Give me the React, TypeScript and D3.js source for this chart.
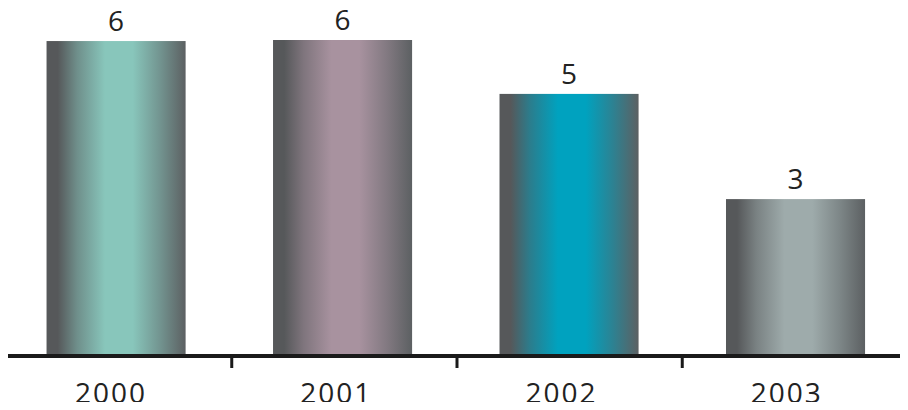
import React from "react";
import * as d3 from "d3";

const categories = ["2000", "2001", "2002", "2003"];
const values = [5.98, 6.0, 4.97, 2.96];
const labels = ["6", "6", "5", "3"];
const colors = ["#88c6bb", "#a8929f", "#00a2bf", "#9eabab"];

const W = 908;
const H = 410;
const baseY = 354;
const FONT = "'Open Sans', 'DejaVu Sans', sans-serif";

export default function App() {
  const x = d3.scaleBand<string>().domain(categories).range([6, 905.6]).paddingInner(0.386).paddingOuter(0.179);
  const xt = d3.scaleBand<string>().domain(categories).range([6.5, 907.5]);
  const y = d3.scaleLinear().domain([0, 6]).range([baseY, 40]);
  const ticks = categories.map((c) => xt(c)!).concat([907.5]);
  const dark = "#56585a";
  const dark2 = "#5c6062";
  return (
    <div style={{ margin: -8, width: W, height: H }}>
      <svg width={W} height={H} style={{ display: "block" }}>
        <defs>
          {colors.map((c, i) => (
            <linearGradient key={i} id={`g${i}`} x1="0" x2="1" y1="0" y2="0">
              <stop offset="0" stopColor={dark} />
              <stop offset="0.08" stopColor={dark} />
              <stop offset="0.22" stopColor={d3.interpolateRgb(dark, c)(0.5)} />
              <stop offset="0.42" stopColor={c} />
              <stop offset="0.62" stopColor={c} />
              <stop offset="0.82" stopColor={d3.interpolateRgb(c, dark2)(0.5)} />
              <stop offset="1" stopColor={dark2} />
            </linearGradient>
          ))}
        </defs>
        {categories.map((c, i) => {
          const bx = x(c)!;
          const bw = x.bandwidth();
          const top = y(values[i]);
          return (
            <g key={c}>
              <rect x={bx} y={top} width={bw} height={baseY - top} fill={`url(#g${i})`} />
              <text x={bx + bw / 2} y={top - 10} textAnchor="middle" fontFamily={FONT} fontSize={28} fill="#222">
                {labels[i]}
              </text>
              <text
                x={xt(c)! + xt.bandwidth() / 2 - 8}
                y={403}
                textAnchor="middle"
                fontFamily={FONT}
                fontSize={28}
                letterSpacing={2}
                fill="#222"
              >
                {c}
              </text>
            </g>
          );
        })}
        <line x1={4} x2={908} y1={356} y2={356} stroke="#1a1a1a" strokeWidth={4} />
        {ticks.map((t, i) => (
          <line key={i} x1={t} x2={t} y1={354} y2={368} stroke="#1a1a1a" strokeWidth={3} />
        ))}
      </svg>
    </div>
  );
}
